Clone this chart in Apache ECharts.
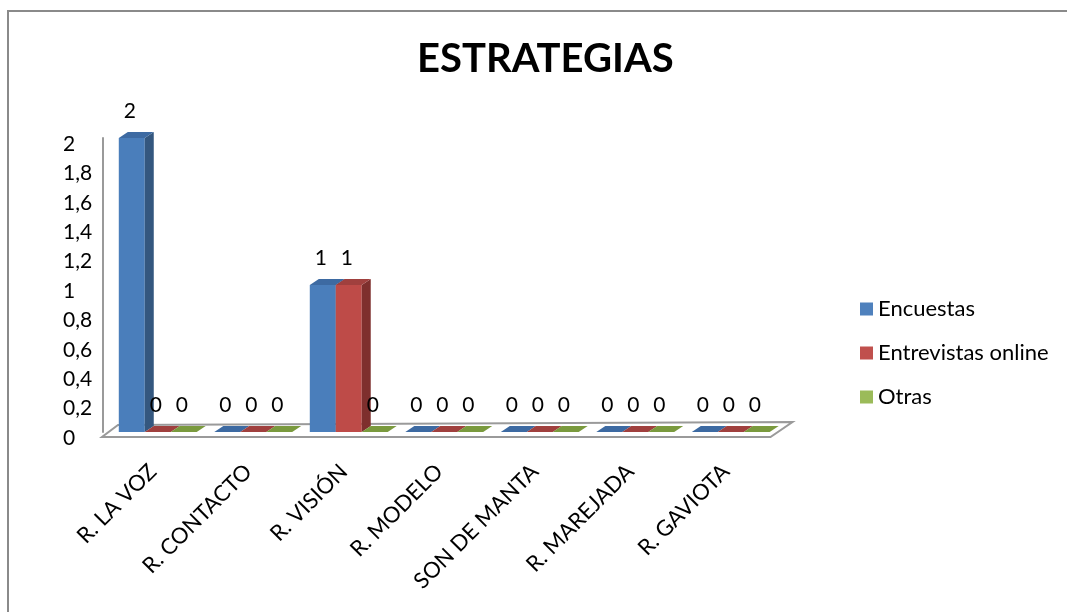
<!DOCTYPE html>
<html>
<head>
<meta charset="utf-8">
<script src="https://cdn.jsdelivr.net/npm/echarts@6/dist/echarts.min.js"></script>
<style>
  html, body { margin: 0; padding: 0; background: #fff; }
  #chart { width: 1067px; height: 612px; }
  #frame {
    position: absolute; left: 7px; top: 10px; width: 1070px; height: 620px;
    border-left: 2px solid #8a8a8a; border-top: 2px solid #8a8a8a;
    pointer-events: none;
  }
</style>
</head>
<body>
<div id="chart"></div>
<div id="frame"></div>
<script>
const categories = ["R. LA VOZ", "R. CONTACTO", "R. VISIÓN", "R. MODELO", "SON DE MANTA", "R. MAREJADA", "R. GAVIOTA"];
const encuestas = [2, 0, 1, 0, 0, 0, 0];
const entrevistas = [0, 0, 1, 0, 0, 0, 0];
const otras = [0, 0, 0, 0, 0, 0, 0];
const seriesNames = ["Encuestas", "Entrevistas online", "Otras"];
const yMax = 2;
const yStep = 0.2;

const FONT = "Lato";

// front / side / top colours for each series
const palette = [
  { front: "#4a7ebb", side: "#34577f", top: "#3d6aa2", legend: "#4f81bd" },
  { front: "#be4b48", side: "#7e2f2d", top: "#a0403e", legend: "#c0504d" },
  { front: "#98b954", side: "#6a8539", top: "#7a9a3e", legend: "#9bbb59" },
];

const chart = echarts.init(document.getElementById("chart"));

// 3d-looking bar drawn through the axes
const barRenderer = (slot) => (params, api) => {
  const i = api.value(0);
  const v = api.value(1);
  const base = api.coord([i, 0]);
  const top = api.coord([i, v]);
  const band = api.size([1, 0])[0];
  const w = band * 0.272;
  const x0 = base[0] - 1.5 * w + slot * w;
  const x1 = x0 + w;
  const dx = 9;
  const dy = -6;
  const c = palette[slot];
  const children = [];
  if (v > 0) {
    children.push({
      type: "rect",
      shape: { x: x0, y: top[1], width: w, height: base[1] - top[1] },
      style: { fill: c.front },
    });
    children.push({
      type: "polygon",
      shape: { points: [[x1, top[1]], [x1 + dx, top[1] + dy], [x1 + dx, base[1] + dy], [x1, base[1]]] },
      style: { fill: c.side },
    });
  }
  children.push({
    type: "polygon",
    shape: { points: [[x0, top[1]], [x1, top[1]], [x1 + dx, top[1] + dy], [x0 + dx, top[1] + dy]] },
    style: { fill: c.top },
  });
  children.push({
    type: "text",
    style: {
      text: String(v),
      x: x0 + w / 2 - 2,
      y: top[1] - 27,
      align: "center",
      verticalAlign: "middle",
      font: "21px " + FONT,
      fill: "#000",
    },
  });
  return { type: "group", children };
};

// floor plate under the bars
const floorRenderer = (params, api) => {
  const cs = params.coordSys;
  const y0 = api.coord([0, 0])[1];
  const left = cs.x;
  const right = cs.x + cs.width;
  return {
    type: "polygon",
    shape: {
      points: [
        [left - 8, y0 + 5],
        [right - 8, y0 + 5],
        [right + 14, y0 - 10],
        [left + 8, y0 - 7],
      ],
    },
    style: { fill: "#fff", stroke: "#9a9a9a", lineWidth: 2 },
  };
};

const makeBarSeries = (name, values, slot) => ({
  name,
  type: "custom",
  xAxisIndex: 0,
  yAxisIndex: 0,
  renderItem: barRenderer(slot),
  itemStyle: { color: palette[slot].legend },
  encode: { x: 0, y: 1 },
  data: values.map((v, i) => [i, v]),
  z: 3,
});

const option = {
  animation: false,
  title: {
    text: "ESTRATEGIAS",
    left: 412,
    top: 34,
    textStyle: { fontFamily: FONT, fontSize: 40, fontWeight: "bold", color: "#000" },
  },
  legend: {
    data: seriesNames,
    orient: "vertical",
    left: 855,
    top: 293,
    itemWidth: 13,
    itemHeight: 13,
    itemGap: 22,
    icon: "rect",
    textStyle: { fontFamily: FONT, fontSize: 22, color: "#000" },
  },
  grid: [
    { left: 110, right: 288.5, top: 138, bottom: 180 },
    // label strip: same category spacing, nudged down like the 3d front edge
    { left: 105, width: 668.5, top: 102, height: 358 },
  ],
  xAxis: [
    {
      type: "category",
      gridIndex: 0,
      data: categories,
      show: false,
    },
    {
      type: "category",
      gridIndex: 1,
      data: categories,
      axisLine: { show: false },
      axisTick: { show: false },
      axisLabel: {
        rotate: 45,
        margin: 8,
        interval: 0,
        fontFamily: FONT,
        fontSize: 22,
        color: "#000",
      },
    },
  ],
  yAxis: [
    {
      type: "value",
      gridIndex: 0,
      min: 0,
      max: yMax,
      interval: yStep,
      offset: 7,
      splitLine: { show: false },
      axisTick: { show: false },
      axisLine: { show: true, lineStyle: { color: "#9a9a9a", width: 2 } },
      axisLabel: {
        align: "left",
        margin: 40,
        fontFamily: FONT,
        fontSize: 21,
        color: "#000",
        formatter: (v) => "{t|" + parseFloat(v.toFixed(1)).toString().replace(".", ",") + "}",
        rich: {
          t: { fontFamily: FONT, fontSize: 21, color: "#000", padding: [12, 0, 0, 0] },
        },
      },
    },
    { type: "value", gridIndex: 1, show: false },
  ],
  series: [
    {
      name: "floor",
      type: "custom",
      silent: true,
      renderItem: floorRenderer,
      encode: { x: 0, y: 1 },
      data: [[0, 0]],
      z: 1,
    },
    makeBarSeries(seriesNames[0], encuestas, 0),
    makeBarSeries(seriesNames[1], entrevistas, 1),
    makeBarSeries(seriesNames[2], otras, 2),
  ],
};

chart.setOption(option);
</script>
</body>
</html>
